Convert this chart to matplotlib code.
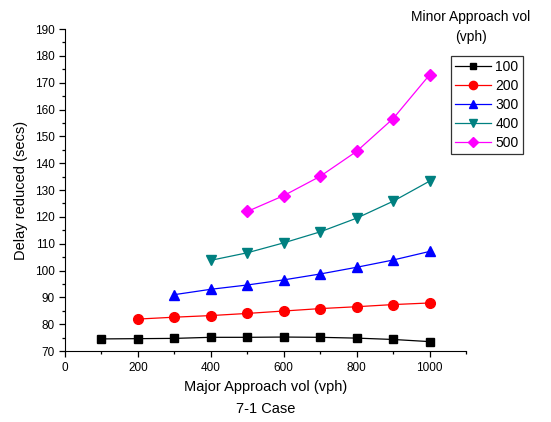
import matplotlib
matplotlib.use("Agg")
import matplotlib.pyplot as plt
from matplotlib.ticker import MultipleLocator

plt.rcParams['font.family'] = ['Liberation Sans', 'DejaVu Sans']

# minor approach volume series (vph) -> delay reduced (secs)
major_vol = [100, 200, 300, 400, 500, 600, 700, 800, 900, 1000]
minor_labels = ['100', '200', '300', '400', '500']

delay_100 = [74.5, 74.6, 74.7, 75.1, 75.1, 75.2, 75.1, 74.8, 74.3, 73.5]
delay_200 = [81.9, 82.6, 83.2, 84.0, 84.9, 85.8, 86.5, 87.3, 87.9]
delay_300 = [91.0, 93.0, 94.6, 96.5, 98.7, 101.2, 103.9, 107.1]
delay_400 = [103.8, 106.6, 110.3, 114.4, 119.5, 125.8, 133.3]
delay_500 = [122.0, 127.9, 135.1, 144.4, 156.6, 172.9]

series = [delay_100, delay_200, delay_300, delay_400, delay_500]
colors = ['black', '#ff0000', '#0000ff', '#008080', '#ff00ff']
markers = ['s', 'o', '^', 'v', 'D']
msizes = [5.8, 7, 7, 7, 6.3]

fig = plt.figure(figsize=(5.51, 4.22), dpi=100)
ax = fig.add_axes([65 / 551, 1 - 351 / 422, 401 / 551, 322 / 422])

for vals, c, m, ms, lab in zip(series, colors, markers, msizes, minor_labels):
    xs = major_vol[len(major_vol) - len(vals):]
    ax.plot(xs, vals, color=c, marker=m, markersize=ms, linewidth=0.9, label=lab)

ax.set_xlim(0, 1100)
ax.set_ylim(70, 190)
ax.xaxis.set_major_locator(MultipleLocator(200))
ax.xaxis.set_minor_locator(MultipleLocator(100))
ax.yaxis.set_major_locator(MultipleLocator(10))
ax.yaxis.set_minor_locator(MultipleLocator(5))
ax.set_xticks([0, 200, 400, 600, 800, 1000])
ax.spines['top'].set_visible(False)
ax.spines['right'].set_visible(False)
ax.tick_params(which='major', direction='out', length=4, width=0.9, labelsize=8.5)
ax.tick_params(which='minor', direction='out', length=2.5, width=0.9)
ax.tick_params(axis='x', pad=4)

ax.set_xlabel('Major Approach vol (vph)', fontsize=10.5, labelpad=4)
ax.set_ylabel('Delay reduced (secs)', fontsize=10.5, labelpad=5)

fig.text(0.5 * (65 + 466) / 551, 1 - 409 / 422, '7-1 Case', ha='center', va='center', fontsize=10.5)
fig.text(471 / 551, 1 - 27 / 422, 'Minor Approach vol\n(vph)', ha='center', va='center',
         fontsize=10, linespacing=1.55)

leg = ax.legend(loc='upper left', bbox_to_anchor=(451 / 551, 1 - 56 / 422),
                bbox_transform=fig.transFigure, fontsize=10, frameon=True, fancybox=False,
                edgecolor='black', handlelength=2.6, borderpad=0.3, labelspacing=0.35,
                handletextpad=0.3, borderaxespad=0, markerscale=0.85)
leg.get_frame().set_linewidth(0.9)

fig.savefig('out.png', dpi=100)
